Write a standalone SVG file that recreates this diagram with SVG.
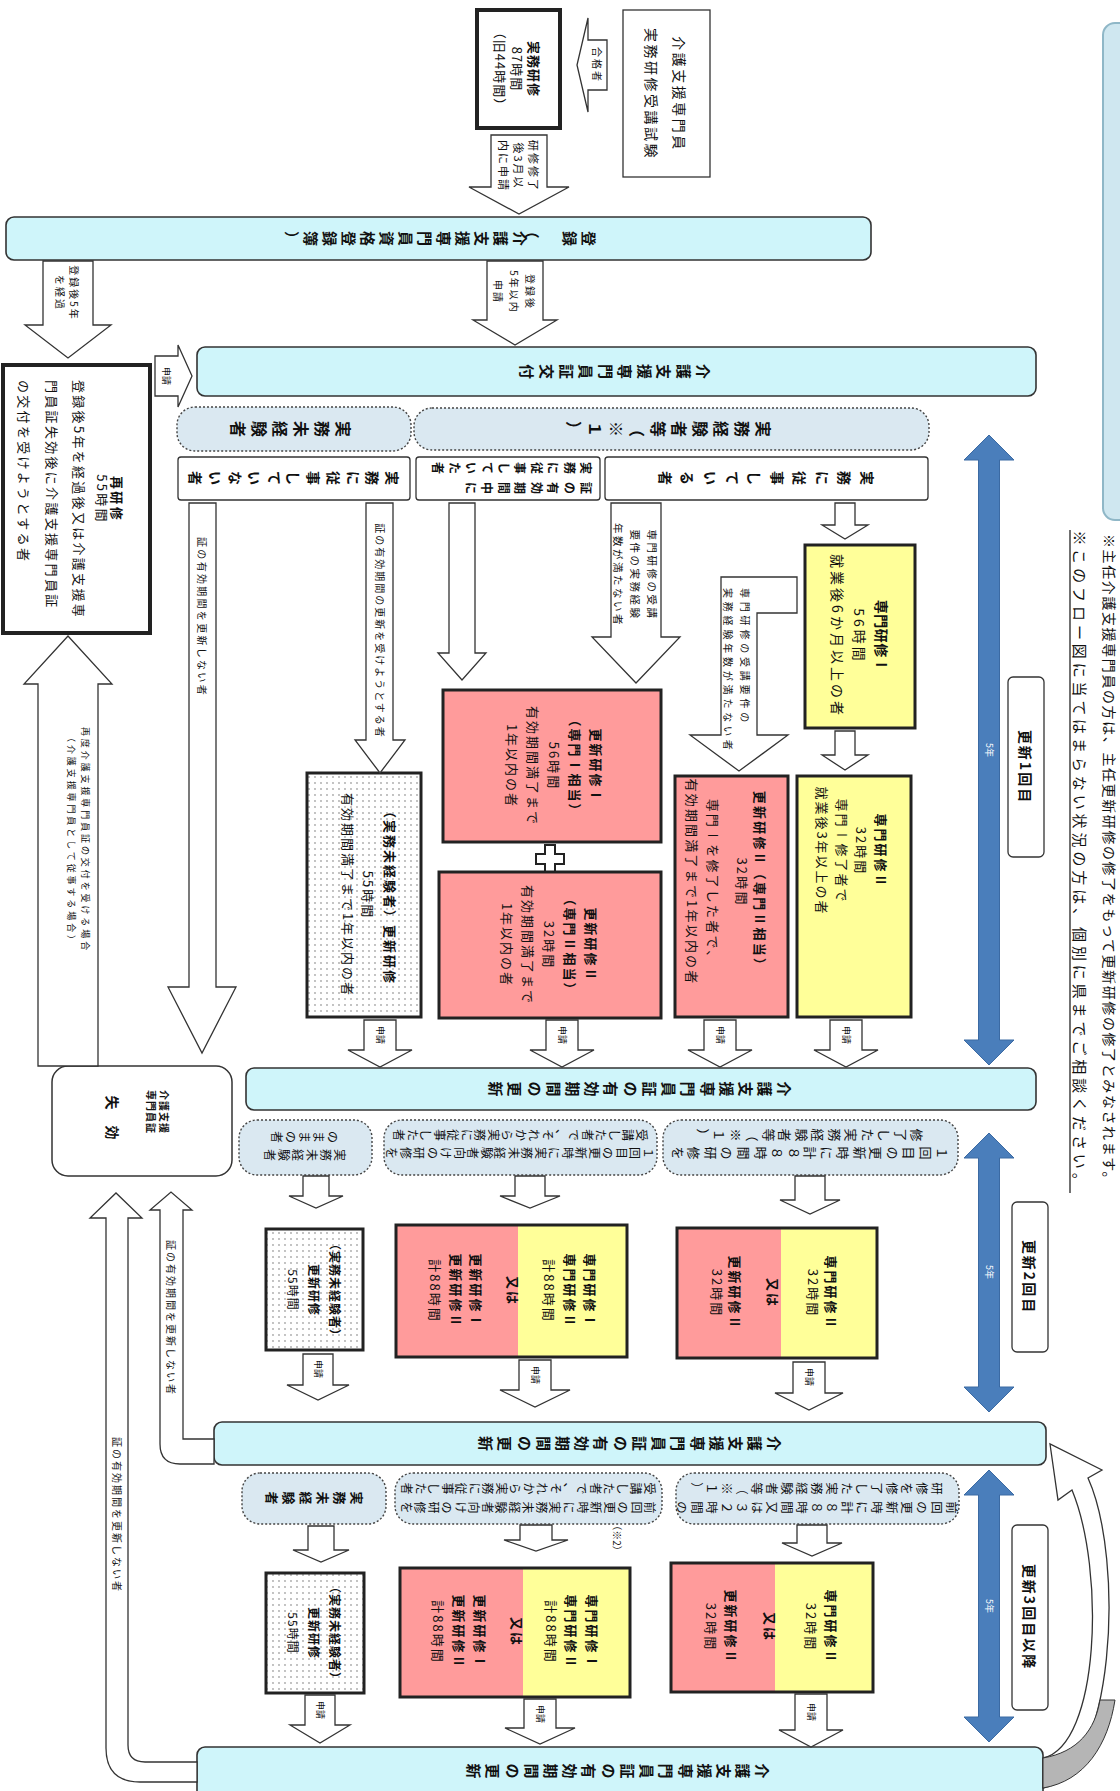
<svg xmlns="http://www.w3.org/2000/svg" width="1120" height="1791" viewBox="0 0 1120 1791">
<defs>
<pattern id="dotp" width="6" height="6" patternUnits="userSpaceOnUse"><rect width="6" height="6" fill="#fff"/><circle cx="3" cy="3" r="0.9" fill="#a8a8a8"/></pattern>
<style>
.t{font-family:'Noto Sans CJK JP','Noto Sans',sans-serif;fill:#111;text-anchor:middle;dominant-baseline:central}
.tv{font-family:'Noto Sans CJK JP','Noto Sans',sans-serif;fill:#111;text-anchor:middle}
.s{text-anchor:start}
.b{font-weight:700}
.w{fill:#fff}
.bar{fill:#cff5fa;stroke:#333;stroke-width:1.6}
.grp{fill:#dae8f1;stroke:#444;stroke-width:1.4;stroke-dasharray:2 2}
.wb{fill:#fff;stroke:#333;stroke-width:1.3}
.yel{fill:#ffff99}
.pink{fill:#ff9b9b}
.thick{fill:none;stroke:#222;stroke-width:3}
.dots{fill:url(#dotp);stroke:#222;stroke-width:3}
.arr{fill:#fff;stroke:#333;stroke-width:1.3}
.blue{fill:#4a7ebb;stroke:#3b6aa3;stroke-width:1}
</style>
</defs>
<rect width="1120" height="1791" fill="#fff"/>

<g id="panel"><rect x="1103" y="23" width="40" height="497" rx="12" fill="#cfe7f0" stroke="#8fb7c7" stroke-width="2"/></g>
<g id="note1">
<text class="t" font-size="15" letter-spacing="3.9" transform="translate(1081 861) rotate(90)"><tspan x="0" y="0">※このフロー図に当てはまらない状況の方は、個別に県までご相談ください。</tspan></text>
<line x1="1070" y1="530" x2="1070" y2="1193" stroke="#111" stroke-width="1.2"/>
</g>
<g id="note2">
<text class="t s" font-size="14" letter-spacing="1.6" transform="translate(1110 534) rotate(90)"><tspan x="0" y="0">※主任介護支援専門員の方は、主任更新研修の修了をもって更新研修の修了とみなされます。</tspan></text>
</g>

<g id="bar-touroku"><rect class="bar" x="6" y="217" width="865" height="43" rx="8"/>
<text class="tv b" font-size="15" letter-spacing="4" rotate="-90" x="15.2" y="7.5" transform="translate(440 238.5) rotate(180)">登録　（介護支援専門員資格登録簿）</text></g>
<g id="bar-koufu"><rect class="bar" x="197" y="347" width="839" height="49" rx="8"/>
<text class="tv b" font-size="15" letter-spacing="4.5" rotate="-90" x="15.45" y="7.5" transform="translate(615 371.5) rotate(180)">介護支援専門員証交付</text></g>
<g id="bar-koushin1"><rect class="bar" x="246" y="1068" width="790" height="42" rx="8"/>
<text class="tv b" font-size="15" letter-spacing="4.2" rotate="-90" x="15.3" y="7.5" transform="translate(640 1089) rotate(180)">介護支援専門員証の有効期間の更新</text></g>
<g id="bar-koushin2"><rect class="bar" x="214" y="1422" width="832" height="43" rx="8"/>
<text class="tv b" font-size="15" letter-spacing="4.2" rotate="-90" x="15.3" y="7.5" transform="translate(630 1443.5) rotate(180)">介護支援専門員証の有効期間の更新</text></g>
<g id="bar-koushin3"><rect class="bar" x="197" y="1747" width="846" height="60" rx="8"/>
<text class="tv b" font-size="15" letter-spacing="4.2" rotate="-90" x="15.3" y="7.5" transform="translate(618 1771) rotate(180)">介護支援専門員証の有効期間の更新</text></g>

<g id="exam"><rect x="623" y="10" width="87" height="167" fill="#fff" stroke="#333" stroke-width="1.3"/>
<text class="t" font-size="14" letter-spacing="2.5" transform="translate(666 94) rotate(90)"><tspan x="0" y="-14">介護支援専門員</tspan><tspan x="0" y="14">実務研修受講試験</tspan></text></g>
<g id="jitsumu-kenshu"><rect x="477" y="10" width="83" height="118" fill="#fff" stroke="#222" stroke-width="4"/>
<text class="t" font-size="13" letter-spacing="1" transform="translate(518 69) rotate(90)"><tspan class="b" x="0" y="-17">実務研修</tspan><tspan x="0" y="0">87時間</tspan><tspan x="0" y="17">（旧44時間）</tspan></text></g>
<g id="saikenshu"><rect x="3" y="365" width="147" height="268" fill="#fff" stroke="#222" stroke-width="4"/>
<text class="t" font-size="13" letter-spacing="2.3" transform="translate(76 499) rotate(90)"><tspan class="b" x="0" y="-42">再研修</tspan><tspan x="0" y="-27">55時間</tspan><tspan class="s" x="-119" y="-4">登録後5年を経過後又は介護支援専</tspan><tspan class="s" x="-119" y="23">門員証失効後に介護支援専門員証</tspan><tspan class="s" x="-119" y="51">の交付を受けようとする者</tspan></text></g>

<g id="grp-keiken"><rect class="grp" x="414" y="408" width="515" height="42" rx="18"/>
<text class="tv b" font-size="16" letter-spacing="5" rotate="-90" x="16.6" y="8" transform="translate(669 429) rotate(180)">実務経験者等（※１）</text></g>
<g id="grp-mikeiken"><rect class="grp" x="177" y="407" width="234" height="44" rx="18"/>
<text class="tv b" font-size="16" letter-spacing="5" rotate="-90" x="16.6" y="8" transform="translate(291 429) rotate(180)">実務未経験者</text></g>
<g id="jujishiteiru"><rect class="wb" x="605" y="457" width="323" height="43" rx="3"/>
<text class="tv b" font-size="14" letter-spacing="8.5" rotate="-90" x="16.6" y="7" transform="translate(766 478) rotate(180)">実務に従事している者</text></g>
<g id="jujishiteita"><rect class="wb" x="416" y="457" width="184" height="43" rx="3"/>
<text class="tv b s" font-size="12" letter-spacing="4.5" rotate="-90" transform="translate(508 478) rotate(180)"><tspan x="-73.4" y="-4">証の有効期間中に</tspan><tspan x="-73.4" y="16">実務に従事していた者</tspan></text></g>
<g id="jujishiteinai"><rect class="wb" x="178" y="457" width="232" height="43" rx="3"/>
<text class="tv b" font-size="14" letter-spacing="5.7" rotate="-90" x="15.2" y="7" transform="translate(294 478) rotate(180)">実務に従事していない者</text></g>

<g id="senmon1"><rect class="yel" x="805" y="545" width="110" height="183"/><rect class="thick" x="805" y="545" width="110" height="183"/>
<text class="t" font-size="14" letter-spacing="3" transform="translate(860 636) rotate(90)"><tspan class="b" x="0" y="-22" letter-spacing="0.5">専門研修Ⅰ</tspan><tspan x="0" y="0">56時間</tspan><tspan x="0" y="22">就業後6か月以上の者</tspan></text></g>
<g id="senmon2"><rect class="yel" x="797" y="776" width="114" height="241"/><rect class="thick" x="797" y="776" width="114" height="241"/>
<text class="t" font-size="13" letter-spacing="2" transform="translate(854 851) rotate(90)"><tspan class="b" x="0" y="-28">専門研修Ⅱ</tspan><tspan x="0" y="-8">32時間</tspan><tspan x="0" y="11">専門Ⅰ修了者で</tspan><tspan x="0" y="31">就業後3年以上の者</tspan></text></g>
<g id="koushin2-senmon2"><rect class="pink" x="675" y="776" width="113" height="241"/><rect class="thick" x="675" y="776" width="113" height="241"/>
<text class="t" font-size="13" letter-spacing="2.2" transform="translate(727 882) rotate(90)"><tspan class="b" x="0" y="-34">更新研修Ⅱ（専門Ⅱ相当）</tspan><tspan x="0" y="-16">32時間</tspan><tspan x="0" y="13">専門Ⅰを修了した者で、</tspan><tspan x="0" y="34">有効期間満了まで1年以内の者</tspan></text></g>
<g id="koushin1-a"><rect class="pink" x="443" y="690" width="218" height="152"/><rect class="thick" x="443" y="690" width="218" height="152"/>
<text class="t" font-size="13" letter-spacing="2" transform="translate(555 766) rotate(90)"><tspan class="b" x="0" y="-42">更新研修Ⅰ</tspan><tspan class="b" x="0" y="-21">（専門Ⅰ相当）</tspan><tspan x="0" y="0">56時間</tspan><tspan x="0" y="21">有効期間満了まで</tspan><tspan x="0" y="42">1年以内の者</tspan></text></g>
<g id="plus"><path d="M545,845 h10 v9 h9 v10 h-9 v9 h-10 v-9 h-9 v-10 h9 z" fill="#fff" stroke="#222" stroke-width="2"/></g>
<g id="koushin2-a"><rect class="pink" x="439" y="872" width="222" height="146"/><rect class="thick" x="439" y="872" width="222" height="146"/>
<text class="t" font-size="13" letter-spacing="2" transform="translate(550 945) rotate(90)"><tspan class="b" x="0" y="-42">更新研修Ⅱ</tspan><tspan class="b" x="0" y="-21">（専門Ⅱ相当）</tspan><tspan x="0" y="0">32時間</tspan><tspan x="0" y="21">有効期間満了まで</tspan><tspan x="0" y="42">1年以内の者</tspan></text></g>
<g id="mikeiken-koushin"><rect class="dots" x="307" y="773" width="114" height="244"/>
<text class="t" font-size="13" letter-spacing="2" transform="translate(369 895) rotate(90)"><tspan class="b" x="0" y="-22">（実務未経験者）更新研修</tspan><tspan x="0" y="0">55時間</tspan><tspan x="0" y="20">有効期間満了まで1年以内の者</tspan></text></g>

<g id="shikko"><rect x="52" y="1066" width="180" height="110" rx="16" fill="#fff" stroke="#333" stroke-width="1.5"/>
<text class="t b" font-size="10" letter-spacing="1" transform="translate(142 1121) rotate(90)"><tspan x="-9" y="-23">介護支援</tspan><tspan x="-9" y="-10">専門員証</tspan><tspan x="-3" y="29" font-size="14">失　効</tspan></text></g>

<g id="lbl1"><rect x="1008" y="677" width="36" height="180" rx="5" fill="#fff" stroke="#333" stroke-width="1.3"/>
<text class="t b" font-size="14" letter-spacing="2" transform="translate(1026 767) rotate(90)">更新1回目</text></g>
<g id="lbl2"><rect x="1012" y="1202" width="36" height="150" rx="5" fill="#fff" stroke="#333" stroke-width="1.3"/>
<text class="t b" font-size="14" letter-spacing="2" transform="translate(1030 1277) rotate(90)">更新2回目</text></g>
<g id="lbl3"><rect x="1012" y="1525" width="36" height="185" rx="5" fill="#fff" stroke="#333" stroke-width="1.3"/>
<text class="t b" font-size="14" letter-spacing="2" transform="translate(1030 1617) rotate(90)">更新3回目以降</text></g>

<g id="r2-grp-a"><rect class="grp" x="663" y="1120" width="295" height="55" rx="18"/>
<text class="tv" font-size="13" letter-spacing="3.5" rotate="-90" transform="translate(810 1144) rotate(180)"><tspan x="13.2" y="-2.5">１回目の更新時に計８８時間の研修を</tspan><tspan x="13.2" y="15.5">修了した実務経験者等（※１）</tspan></text></g>
<g id="r2-grp-b"><rect class="grp" x="384" y="1120" width="273" height="55" rx="18"/>
<text class="tv" font-size="12" letter-spacing="1.5" rotate="-90" transform="translate(520 1144) rotate(180)"><tspan x="11.3" y="-3">１回目の更新時に実務未経験者向けの研修を</tspan><tspan x="11.3" y="15">受講した者で、それから実務に従事した者</tspan></text></g>
<g id="r2-grp-c"><rect class="grp" x="239" y="1120" width="133" height="55" rx="18"/>
<text class="tv" font-size="12" letter-spacing="2" rotate="-90" transform="translate(305 1146) rotate(180)"><tspan x="11.6" y="-3">実務未経験者</tspan><tspan x="11.6" y="15">のままの者</tspan></text></g>
<g id="r2-box-a"><rect class="pink" x="677" y="1228" width="200" height="130"/><rect class="yel" x="781" y="1228" width="96" height="130"/><rect class="thick" x="677" y="1228" width="200" height="130"/>
<text class="t" font-size="13" letter-spacing="2" transform="translate(777 1293) rotate(90)"><tspan class="b" x="0" y="-55">専門研修Ⅱ</tspan><tspan x="0" y="-37">32時間</tspan><tspan class="b" x="0" y="3">又は</tspan><tspan class="b" x="0" y="41">更新研修Ⅱ</tspan><tspan x="0" y="59">32時間</tspan></text></g>
<g id="r2-box-b"><rect class="pink" x="396" y="1225" width="231" height="132"/><rect class="yel" x="518" y="1225" width="109" height="132"/><rect class="thick" x="396" y="1225" width="231" height="132"/>
<text class="t" font-size="13" letter-spacing="2" transform="translate(512 1291) rotate(90)"><tspan class="b" x="0" y="-79">専門研修Ⅰ</tspan><tspan class="b" x="0" y="-59">専門研修Ⅱ</tspan><tspan x="0" y="-38">計88時間</tspan><tspan class="b" x="0" y="-2">又は</tspan><tspan class="b" x="0" y="35">更新研修Ⅰ</tspan><tspan class="b" x="0" y="55">更新研修Ⅱ</tspan><tspan x="0" y="76">計88時間</tspan></text></g>
<g id="r2-box-c"><rect class="dots" x="266" y="1229" width="97" height="121"/>
<text class="t" font-size="12" letter-spacing="1" transform="translate(315 1290) rotate(90)"><tspan class="b" x="0" y="-21">（実務未経験者）</tspan><tspan class="b" x="0" y="0">更新研修</tspan><tspan x="0" y="21">55時間</tspan></text></g>

<g id="r3-grp-a"><rect class="grp" x="676" y="1473" width="283" height="51" rx="18"/>
<text class="tv" font-size="12.5" letter-spacing="2.5" rotate="-90" transform="translate(817 1498) rotate(180)"><tspan x="12.25" y="-3.25">前回の更新時に計８８時間又は３２時間の</tspan><tspan x="12.25" y="15.75">研修を修了した実務経験者等（※１）</tspan></text></g>
<g id="r3-grp-b"><rect class="grp" x="395" y="1473" width="267" height="51" rx="18"/>
<text class="tv" font-size="12" letter-spacing="1.5" rotate="-90" transform="translate(528 1498) rotate(180)"><tspan x="11.3" y="-3.5">前回の更新時に実務未経験者向けの研修を</tspan><tspan x="11.3" y="15.5">受講した者で、それから実務に従事した者</tspan></text></g>
<g id="r3-grp-c"><rect class="grp" x="242" y="1473" width="144" height="51" rx="18"/>
<text class="tv b" font-size="13" letter-spacing="4" rotate="-90" x="13.4" y="6.5" transform="translate(314 1498) rotate(180)">実務未経験者</text></g>
<g id="r3-note"><text class="t" font-size="10" transform="translate(617 1538) rotate(90)">（※2）</text></g>
<g id="r3-box-a"><rect class="pink" x="671" y="1563" width="202" height="129"/><rect class="yel" x="775" y="1563" width="98" height="129"/><rect class="thick" x="671" y="1563" width="202" height="129"/>
<text class="t" font-size="13" letter-spacing="2" transform="translate(772 1627) rotate(90)"><tspan class="b" x="0" y="-60">専門研修Ⅱ</tspan><tspan x="0" y="-40">32時間</tspan><tspan class="b" x="0" y="1">又は</tspan><tspan class="b" x="0" y="40">更新研修Ⅱ</tspan><tspan x="0" y="60">32時間</tspan></text></g>
<g id="r3-box-b"><rect class="pink" x="400" y="1568" width="230" height="129"/><rect class="yel" x="523" y="1568" width="107" height="129"/><rect class="thick" x="400" y="1568" width="230" height="129"/>
<text class="t" font-size="13" letter-spacing="2" transform="translate(515 1632) rotate(90)"><tspan class="b" x="0" y="-78">専門研修Ⅰ</tspan><tspan class="b" x="0" y="-57">専門研修Ⅱ</tspan><tspan x="0" y="-37">計88時間</tspan><tspan class="b" x="0" y="-3">又は</tspan><tspan class="b" x="0" y="34">更新研修Ⅰ</tspan><tspan class="b" x="0" y="55">更新研修Ⅱ</tspan><tspan x="0" y="76">計88時間</tspan></text></g>
<g id="r3-box-c"><rect class="dots" x="266" y="1573" width="98" height="120"/>
<text class="t" font-size="12" letter-spacing="1" transform="translate(315 1633) rotate(90)"><tspan class="b" x="0" y="-21">（実務未経験者）</tspan><tspan class="b" x="0" y="0">更新研修</tspan><tspan x="0" y="21">55時間</tspan></text></g>

<g id="connectors">
<polygon class="arr" points="607,40 588,40 588,18 577,65 588,112 588,90 607,90"/>
<text class="t" font-size="10" letter-spacing="2" transform="translate(597 65) rotate(90)">合格者</text>
<polygon class="arr" points="491,135 547,135 547,187 569,187 519,214 469,187 491,187"/>
<text class="t" font-size="11" letter-spacing="2" transform="translate(519 166) rotate(90)"><tspan x="0" y="-15">研修修了</tspan><tspan x="0" y="0">後3月以</tspan><tspan x="0" y="15">内に申請</tspan></text>
<polygon class="arr" points="487,261 543,261 543,320 557,320 515,345 473,320 487,320"/>
<text class="t" font-size="10" letter-spacing="2" transform="translate(515 292) rotate(90)"><tspan x="0" y="-16">登録後</tspan><tspan x="0" y="0">5年以内</tspan><tspan x="0" y="16">申請</tspan></text>
<polygon class="arr" points="43,261 93,261 93,325 111,325 68,358 25,325 43,325"/>
<text class="t" font-size="10" letter-spacing="2" transform="translate(68 293) rotate(90)"><tspan x="0" y="-7">登録後5年</tspan><tspan x="0" y="7">を経過</tspan></text>
<polygon class="arr" points="155,356 178,356 178,345 192,376 178,407 178,396 155,396"/>
<text class="t" font-size="9" transform="translate(166 376) rotate(90)">申請</text>
<polygon class="arr" points="835,503 855,503 855,525 868,525 845,539 822,525 835,525"/>
<polygon class="arr" points="835,731 855,731 855,755 868,755 845,770 822,755 835,755"/>
<polygon class="arr" points="797,577 721,577 721,735 690,735 739,771 788,735 757,735 757,613 797,613"/>
<text class="t s" font-size="10" letter-spacing="3.8" transform="translate(738 670) rotate(90)"><tspan x="-82" y="-8">専門研修の受講要件の</tspan><tspan x="-82" y="9">実務経験年数が満たない者</tspan></text>
<polygon class="arr" points="611,503 661,503 661,637 680,637 636,683 592,637 611,637"/>
<text class="t" font-size="10.5" letter-spacing="2.5" transform="translate(636 575) rotate(90)"><tspan x="0" y="-17">専門研修の受講</tspan><tspan x="0" y="0">要件の実務経験</tspan><tspan x="0" y="17">年数が満たない者</tspan></text>
<polygon class="arr" points="449,503 475,503 475,653 486,653 462,680 438,653 449,653"/>
<polygon class="arr" points="366,503 393,503 393,740 405,740 380,773 355,740 366,740"/>
<text class="t" font-size="10" letter-spacing="2" transform="translate(380 631) rotate(90)">証の有効期間の更新を受けようとする者</text>
<polygon class="arr" points="189,503 216,503 216,987 236,987 202,1053 168,987 189,987"/>
<text class="t" font-size="10" letter-spacing="2.3" transform="translate(202 617) rotate(90)">証の有効期間を更新しない者</text>
<polygon class="arr" points="38,1066 98,1066 98,684 112,684 68,636 24,684 38,684"/>
<text class="t" font-size="9" letter-spacing="2.9" transform="translate(68 840) rotate(90)"><tspan x="0" y="-18">再度介護支援専門員証の交付を受ける場合</tspan><tspan x="0" y="-4">（介護支援専門員として従事する場合）</tspan></text>
<path class="arr" d="M160,1210 L150,1210 L171,1192 L192,1210 L183,1210 L183,1439 L214,1439 L214,1464 L180,1464 Q160,1464 160,1444 Z"/>
<text class="t" font-size="10" letter-spacing="2" transform="translate(171 1318) rotate(90)">証の有効期間を更新しない者</text>
<path class="arr" d="M106,1218 L90,1218 L116,1193 L142,1218 L128,1218 L128,1745 Q128,1762 145,1762 L197,1762 L197,1782 L140,1782 Q106,1782 106,1748 Z"/>
<text class="t" font-size="10" letter-spacing="2" transform="translate(117 1515) rotate(90)">証の有効期間を更新しない者</text>

<polygon class="arr" points="830,1020 862,1020 862,1050 878,1050 846,1067 814,1050 830,1050"/>
<polygon class="arr" points="704,1020 736,1020 736,1050 752,1050 720,1067 688,1050 704,1050"/>
<polygon class="arr" points="546,1020 578,1020 578,1050 594,1050 562,1067 530,1050 546,1050"/>
<polygon class="arr" points="364,1020 396,1020 396,1050 412,1050 380,1067 348,1050 364,1050"/>
<text class="t" font-size="9" transform="translate(846 1035) rotate(90)">申請</text>
<text class="t" font-size="9" transform="translate(720 1035) rotate(90)">申請</text>
<text class="t" font-size="9" transform="translate(562 1035) rotate(90)">申請</text>
<text class="t" font-size="9" transform="translate(380 1035) rotate(90)">申請</text>

<polygon class="arr" points="795,1176 825,1176 825,1200 840,1200 810,1214 780,1200 795,1200"/>
<polygon class="arr" points="515,1176 545,1176 545,1196 560,1196 530,1208 500,1196 515,1196"/>
<polygon class="arr" points="303,1176 329,1176 329,1196 343,1196 316,1208 289,1196 303,1196"/>
<polygon class="arr" points="793,1362 825,1362 825,1393 843,1393 809,1410 775,1393 793,1393"/>
<polygon class="arr" points="519,1360 551,1360 551,1390 570,1390 535,1407 500,1390 519,1390"/>
<polygon class="arr" points="303,1354 333,1354 333,1385 349,1385 318,1400 287,1385 303,1385"/>
<text class="t" font-size="9" transform="translate(809 1377) rotate(90)">申請</text>
<text class="t" font-size="9" transform="translate(535 1375) rotate(90)">申請</text>
<text class="t" font-size="9" transform="translate(318 1369) rotate(90)">申請</text>

<polygon class="arr" points="797,1525 827,1525 827,1543 842,1543 812,1556 782,1543 797,1543"/>
<polygon class="arr" points="520,1525 552,1525 552,1540 568,1540 536,1551 504,1540 520,1540"/>
<polygon class="arr" points="308,1526 334,1526 334,1550 349,1550 321,1562 293,1550 308,1550"/>
<polygon class="arr" points="795,1694 827,1694 827,1730 843,1730 811,1747 779,1730 795,1730"/>
<polygon class="arr" points="524,1699 556,1699 556,1728 575,1728 540,1744 505,1728 524,1728"/>
<polygon class="arr" points="305,1695 335,1695 335,1725 350,1725 320,1743 290,1725 305,1725"/>
<text class="t" font-size="9" transform="translate(811 1712) rotate(90)">申請</text>
<text class="t" font-size="9" transform="translate(540 1714) rotate(90)">申請</text>
<text class="t" font-size="9" transform="translate(320 1710) rotate(90)">申請</text>

<polygon class="blue" points="989,435 1014,460 999.5,460 999.5,1040 1014,1040 989,1065 964,1040 978.5,1040 978.5,460 964,460"/>
<polygon class="blue" points="989,1133 1014,1158 999.5,1158 999.5,1387 1014,1387 989,1412 964,1387 978.5,1387 978.5,1158 964,1158"/>
<polygon class="blue" points="989,1470 1014,1495 999.5,1495 999.5,1717 1014,1717 989,1742 964,1717 978.5,1717 978.5,1495 964,1495"/>
<text class="t w" font-size="9" transform="translate(989 750) rotate(90)">5年</text>
<text class="t w" font-size="9" transform="translate(989 1272) rotate(90)">5年</text>
<text class="t w" font-size="9" transform="translate(989 1606) rotate(90)">5年</text>

<path d="M1043,1788 C1115,1775 1125,1560 1088,1478 L1102,1470 L1050,1444 L1058,1500 L1072,1490 C1105,1570 1100,1745 1043,1758 Z" fill="#fff" stroke="#333" stroke-width="1.3"/>
<path d="M1043,1788 C1085,1781 1108,1745 1115,1700 L1100,1700 C1095,1730 1078,1752 1043,1758 Z" fill="#b5b5b5" stroke="#333" stroke-width="1"/>
</g>
</svg>
